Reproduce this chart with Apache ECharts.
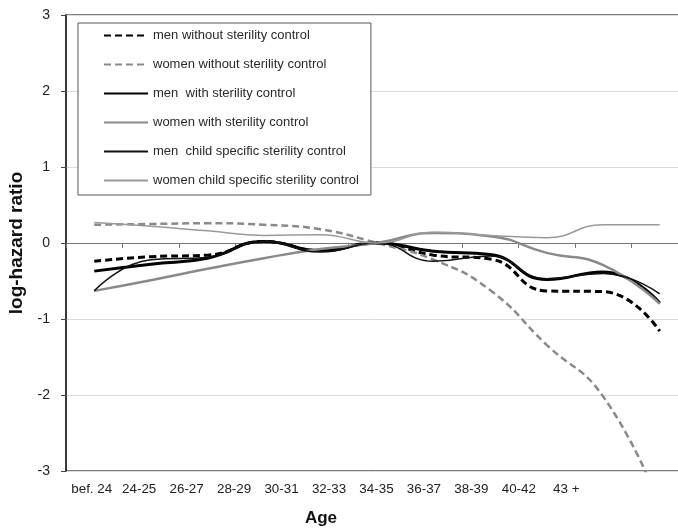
<!DOCTYPE html>
<html>
<head>
<meta charset="utf-8">
<script src="https://cdn.jsdelivr.net/npm/echarts@6/dist/echarts.min.js"></script>
<style>
html,body{margin:0;padding:0;background:#fff;}
#c{width:678px;height:528px;}
</style>
</head>
<body>
<div id="c"></div>
<script>
const categories = ['bef. 24','24-25','26-27','28-29','30-31','32-33','34-35','36-37','38-39','40-42','43 +'];
const yTicks = [-3,-2,-1,0,1,2,3];
const seriesNames = [
  'men without sterility control',
  'women without sterility control',
  'men  with sterility control',
  'women with sterility control',
  'men  child specific sterility control',
  'women child specific sterility control'
];
const menWithout   = [-0.24,-0.18,-0.16, 0.02,-0.10,0,-0.16,-0.21,-0.63,-0.64,-1.16];
const womenWithout = [ 0.24, 0.25, 0.26, 0.24, 0.18,0,-0.22,-0.62,-1.34,-2.02,-3.45];
const menWith      = [-0.37,-0.28,-0.20, 0.02,-0.10,0,-0.11,-0.15,-0.48,-0.38,-0.79];
const womenWith    = [-0.63,-0.49,-0.34,-0.20,-0.08,0, 0.13, 0.09,-0.13,-0.29,-0.80];
const menChild     = [-0.63,-0.22,-0.19, 0.02,-0.12,0,-0.24,-0.17,-0.47,-0.40,-0.67];
const womenChild   = [ 0.27, 0.22, 0.16, 0.10, 0.11,0, 0.14, 0.10, 0.07, 0.24, 0.24];

const FONT = 'Liberation Sans, Arial, sans-serif';
const chart = echarts.init(document.getElementById('c'), null, {renderer:'canvas'});

function line(name, data, color, width, dashed){
  return {
    name: name, type: 'line', data: data, xAxisIndex: 0, yAxisIndex: 0,
    symbol: 'none', smooth: true, clip: true,
    lineStyle: {color: color, width: width, type: dashed ? [7,4] : 'solid'},
    itemStyle: {color: color},
    emphasis: {disabled: true}
  };
}

chart.setOption({
  animation: false,
  backgroundColor: '#fff',
  textStyle: {fontFamily: FONT},
  title: {
    text: 'Age', left: 316, top: 505, textAlign: 'center',
    textStyle: {fontFamily: FONT, fontSize: 17, fontWeight: 'bold', color: '#111'}
  },
  grid: [
    {left: 66, right: -10, top: 15, bottom: 57, show: true, borderColor: '#555', borderWidth: 1.5,
     backgroundColor: 'transparent', containLabel: false, outerBoundsMode: 'none'},
    {left: 68, width: 522, top: 15, bottom: 57, show: false, containLabel: false, outerBoundsMode: 'none'}
  ],
  legend: {
    orient: 'vertical', left: 78, top: 23,
    padding: [6, 12, 8, 25], itemGap: 16, itemWidth: 44, itemHeight: 14,
    borderColor: '#555', borderWidth: 1, backgroundColor: '#fff',
    data: seriesNames,
    itemStyle: {opacity: 0, color: 'transparent', borderWidth: 0},
    textStyle: {fontFamily: FONT, fontSize: 13, color: '#2a2a2a'}
  },
  xAxis: [
    {
      type: 'category', gridIndex: 0, data: categories, boundaryGap: true,
      axisLine: {show: true, onZero: true, lineStyle: {color: '#777', width: 1}},
      axisTick: {show: true, inside: false, length: 5, lineStyle: {color: '#777'}},
      axisLabel: {show: false}, splitLine: {show: false}
    },
    {
      type: 'category', gridIndex: 1, data: categories, boundaryGap: true,
      axisLine: {show: false}, axisTick: {show: false}, splitLine: {show: false},
      axisLabel: {show: true, margin: 12, fontSize: 13.4, color: '#222', fontFamily: FONT, interval: 0}
    }
  ],
  yAxis: [
    {
      type: 'value', gridIndex: 0, min: yTicks[0], max: yTicks[yTicks.length-1], interval: 1,
      name: 'log-hazard ratio', nameLocation: 'middle', nameGap: 38, nameRotate: 90,
      nameTextStyle: {fontFamily: FONT, fontSize: 19, fontWeight: 'bold', color: '#111'},
      axisLine: {show: true, onZero: false, lineStyle: {color: '#222', width: 1.5}},
      axisTick: {show: true, inside: false, length: 5, lineStyle: {color: '#444'}},
      axisLabel: {margin: 16, fontSize: 14, color: '#222', fontFamily: FONT},
      splitLine: {show: true, lineStyle: {color: '#dcdcdc', width: 1}}
    },
    {
      type: 'value', gridIndex: 1, min: -3, max: 3, show: false
    }
  ],
  series: [
    line(seriesNames[0], menWithout, '#000', 3, true),
    line(seriesNames[1], womenWithout, '#8a8a8a', 2.5, true),
    line(seriesNames[2], menWith, '#000', 3, false),
    line(seriesNames[3], womenWith, '#8a8a8a', 2.5, false),
    line(seriesNames[4], menChild, '#111', 1.5, false),
    line(seriesNames[5], womenChild, '#9a9a9a', 1.5, false)
  ]
});
</script>
</body>
</html>
